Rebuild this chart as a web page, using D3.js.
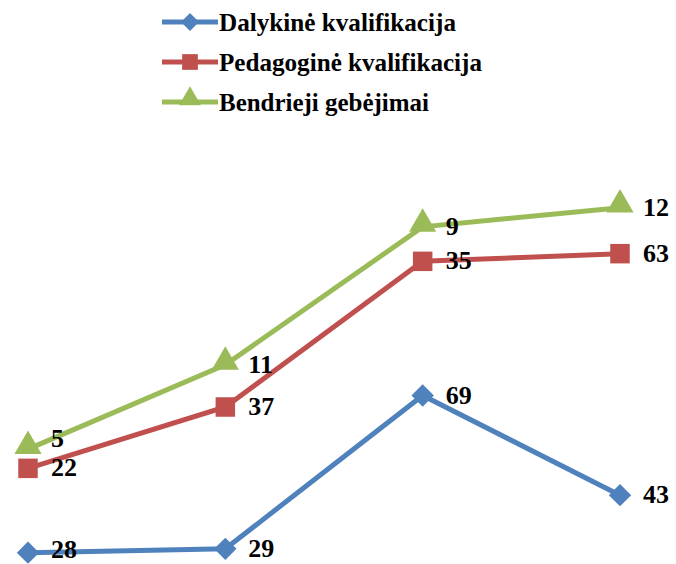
<!DOCTYPE html>
<html>
<head>
<meta charset="utf-8">
<script src="https://cdn.jsdelivr.net/npm/d3@7"></script>
</head>
<body style="margin:0">
<svg id="chart" width="676" height="564"></svg>
<script>
  // categories are not visible in the cropped picture
  var categories = ['1', '2', '3', '4'];
  var seriesNames = ['Dalykinė kvalifikacija', 'Pedagoginė kvalifikacija', 'Bendrieji gebėjimai'];
  var dalykine = [28, 29, 69, 43];
  var pedagogine = [22, 37, 35, 63];
  var bendrieji = [5, 11, 9, 12];
  var colors = ['#4F81BD', '#C0504D', '#9BBB59'];
  var serifFont = "'Liberation Serif'";

  var svg = d3.select('#chart');

  var x = d3.scalePoint().domain(categories).range([28, 620]);
  // stacked line chart, axis starts below the visible area
  var y = d3.scaleLinear().domain([0, 120]).range([660, 200]);

  var values = [dalykine, pedagogine, bendrieji];
  var stacked = [];
  values.forEach(function (vals, i) {
    stacked.push(vals.map(function (v, j) {
      var base = i > 0 ? stacked[i - 1][j].top : 0;
      return { cat: categories[j], value: v, top: base + v };
    }));
  });

  var line = d3.line()
    .x(function (d) { return x(d.cat); })
    .y(function (d) { return y(d.top); });

  // diamond = square turned 45deg, like excel's marker
  function marker(i, scale) {
    var types = [d3.symbolSquare, d3.symbolSquare, d3.symbolTriangle];
    var sizes = [250, 380, 320];
    return d3.symbol().type(types[i]).size(sizes[i] * scale)();
  }
  function markerTransform(i, cx, cy) {
    if (i === 0) return 'translate(' + cx + ',' + cy + ') rotate(45)';
    if (i === 2) return 'translate(' + cx + ',' + (cy - 3) + ')';
    return 'translate(' + cx + ',' + cy + ')';
  }

  // legend
  var legendWidths = [237, 263, 210];
  seriesNames.forEach(function (name, i) {
    var ly = 22 + i * 40;
    svg.append('line')
      .attr('x1', 162).attr('x2', 218)
      .attr('y1', ly).attr('y2', ly)
      .attr('stroke', colors[i])
      .attr('stroke-width', 5);
    svg.append('path')
      .attr('transform', markerTransform(i, 190, ly))
      .attr('d', marker(i, 0.65))
      .attr('fill', colors[i]);
    svg.append('text')
      .attr('x', 219)
      .attr('y', ly + 9)
      .attr('font-family', serifFont)
      .attr('font-weight', 'bold')
      .attr('font-size', 26)
      .attr('textLength', legendWidths[i])
      .attr('lengthAdjust', 'spacingAndGlyphs')
      .text(name);
  });

  stacked.forEach(function (pts, i) {
    svg.append('path')
      .datum(pts)
      .attr('d', line)
      .attr('fill', 'none')
      .attr('stroke', colors[i])
      .attr('stroke-width', 5);
  });

  // markers drawn after all lines
  stacked.forEach(function (pts, i) {
    svg.selectAll('.mk' + i)
      .data(pts)
      .enter().append('path')
      .attr('class', 'mk' + i)
      .attr('transform', function (d) { return markerTransform(i, x(d.cat), y(d.top)); })
      .attr('d', marker(i, 1))
      .attr('fill', colors[i]);
  });

  // labels right of the points, pushed up when they would sit on the label below
  var lastY = {};
  stacked.forEach(function (pts, i) {
    svg.selectAll('.lbl' + i)
      .data(pts)
      .enter().append('text')
      .attr('class', 'lbl' + i)
      .attr('x', function (d) { return x(d.cat) + 23; })
      .attr('y', function (d) {
        var ty = Math.min(y(d.top) + 8, 558);
        if (lastY[d.cat] !== undefined && lastY[d.cat] - ty < 29) ty = lastY[d.cat] - 29;
        lastY[d.cat] = ty;
        return ty;
      })
      .attr('font-family', serifFont)
      .attr('font-weight', 'bold')
      .attr('font-size', 26)
      .text(function (d) { return d.value; });
  });
</script>
</body>
</html>
